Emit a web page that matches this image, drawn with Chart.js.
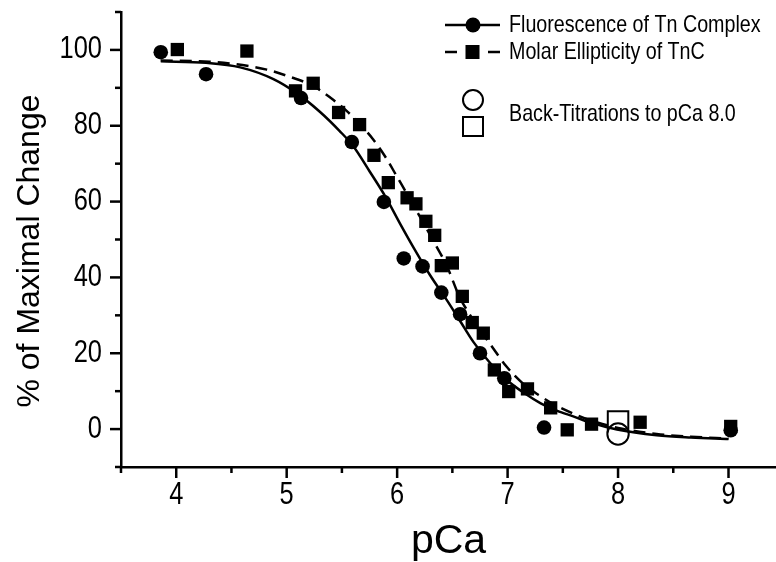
<!DOCTYPE html>
<html>
<head>
<meta charset="utf-8">
<script src="https://cdn.jsdelivr.net/npm/chart.js@4.4.1/dist/chart.umd.min.js"></script>
<style>
html,body{margin:0;padding:0;background:#fff;}
#wrap{width:776px;height:562px;position:relative;}
</style>
</head>
<body>
<div id="wrap"><canvas id="c" width="776" height="562"></canvas></div>
<script>
// ---- data ----
const fluorPCa = [3.86, 4.27, 5.13, 5.59, 5.88, 6.06, 6.23, 6.40, 6.57, 6.75, 6.97, 7.33, 9.02];
const fluorPct = [99.4, 93.6, 87.3, 75.7, 59.9, 45.0, 42.9, 36.0, 30.3, 20.0, 13.4, 0.4, -0.3];

const ellipPCa = [4.01, 4.64, 5.08, 5.24, 5.47, 5.66, 5.79, 5.92, 6.09, 6.17, 6.26, 6.34, 6.40, 6.50, 6.59, 6.68, 6.78, 6.88, 7.01, 7.18, 7.39, 7.54, 7.76, 8.20, 9.02];
const ellipPct = [100.1, 99.7, 89.2, 91.2, 83.5, 80.3, 72.2, 65.0, 61.0, 59.4, 54.8, 51.1, 43.1, 43.8, 35.0, 28.1, 25.3, 15.6, 9.9, 10.6, 5.6, -0.2, 1.3, 1.8, 0.7];

const fitFluorPCa = [3.86, 4.27, 4.58, 4.88, 5.09, 5.30, 5.48, 5.60, 5.75, 5.90, 6.03, 6.15, 6.30, 6.45, 6.57, 6.69, 6.84, 6.99, 7.15, 7.30, 7.45, 7.60, 7.75, 7.99, 8.35, 8.66, 9.00];
const fitFluorPct = [97.0, 96.6, 95.4, 92.3, 88.6, 83.7, 78.6, 74.7, 68.0, 61.0, 54.0, 47.8, 40.5, 34.0, 28.5, 23.0, 17.5, 13.0, 9.5, 6.8, 4.8, 3.3, 1.7, -0.1, -1.6, -2.2, -2.6];

const fitEllipPCa = [3.86, 4.30, 4.60, 4.82, 5.04, 5.24, 5.40, 5.54, 5.66, 5.78, 5.90, 6.00, 6.10, 6.21, 6.33, 6.45, 6.57, 6.63, 6.73, 6.84, 6.99, 7.14, 7.28, 7.42, 7.60, 7.75, 8.00, 8.35, 8.66, 9.00];
const fitEllipPct = [97.2, 96.9, 96.0, 94.8, 92.8, 90.5, 87.3, 84.0, 80.5, 76.5, 71.5, 66.5, 61.5, 55.8, 49.5, 43.0, 34.5, 31.5, 27.0, 22.5, 16.5, 12.0, 9.0, 6.5, 4.0, 2.3, 0.3, -1.3, -2.0, -2.5];

const backPCa = [8.0];
const backFluorPct = [-1.3];
const backEllipPct = [2.0];

const xTickValues = [4, 5, 6, 7, 8, 9];
const yTickValues = [0, 20, 40, 60, 80, 100];

const legendLabels = ["Fluorescence of Tn Complex", "Molar Ellipticity of TnC", "Back-Titrations to pCa 8.0"];
const xTitle = "pCa";
const yTitle = "% of Maximal Change";

// ---- helpers ----
const pts = (xs, ys) => xs.map((x, i) => ({x: x, y: ys[i]}));
const REG = "'Liberation Sans', Arial, sans-serif";
const NARROW_X = 0.82; // horizontal compression to imitate a narrow face

// draw tick labels horizontally condensed (text stays text)
function condensedFill(ctx, fn) {
  const f = ctx.fillText;
  ctx.fillText = function (t, x, y, m) {
    this.save();
    this.scale(NARROW_X, 1);
    if (m === undefined) f.call(this, t, x / NARROW_X, y);
    else f.call(this, t, x / NARROW_X, y, m / NARROW_X);
    this.restore();
  };
  try { fn(); } finally { delete ctx.fillText; }
}

const tickPlugin = {
  id: 'tickMarks',
  afterLayout(chart) {
    ['x', 'y'].forEach(id => {
      const s = chart.scales[id];
      if (s && !s._condensed) {
        const orig = s.drawLabels.bind(s);
        s.drawLabels = function (area) { condensedFill(this.ctx, () => orig(area)); };
        s._condensed = true;
      }
    });
  },
  afterDraw(chart) {
    const ctx = chart.ctx;
    const xs = chart.scales.x, ys = chart.scales.y;
    const ca = chart.chartArea;
    ctx.save();
    ctx.strokeStyle = '#000';
    ctx.lineWidth = 2.5;
    ctx.lineCap = 'butt';
    for (let v = 3.5; v <= xs.max + 1e-9; v += 0.5) {
      const px = xs.getPixelForValue(v);
      const major = Math.abs(v - Math.round(v)) < 1e-6;
      ctx.beginPath();
      ctx.moveTo(px, ca.bottom);
      ctx.lineTo(px, ca.bottom + (major ? 11 : 6));
      ctx.stroke();
    }
    for (let v = -10; v <= 110 + 1e-9; v += 10) {
      const py = ys.getPixelForValue(v);
      const major = Math.abs(v % 20) < 1e-6;
      ctx.beginPath();
      ctx.moveTo(ca.left, py);
      ctx.lineTo(ca.left - (major ? 11 : 6), py);
      ctx.stroke();
    }
    // y axis title
    ctx.fillStyle = '#000';
    ctx.font = "32px " + REG;
    ctx.textAlign = 'center';
    ctx.textBaseline = 'middle';
    ctx.translate(30, 251);
    ctx.rotate(-Math.PI / 2);
    ctx.fillText(yTitle, 0, 0);
    ctx.restore();

    // legend
    ctx.save();
    ctx.fillStyle = '#000';
    ctx.strokeStyle = '#000';
    ctx.lineWidth = 2.5;
    ctx.beginPath(); ctx.moveTo(445, 25); ctx.lineTo(500, 25); ctx.stroke();
    ctx.beginPath(); ctx.arc(473, 25, 7.5, 0, Math.PI * 2); ctx.fill();
    ctx.beginPath(); ctx.moveTo(445, 52); ctx.lineTo(457, 52); ctx.moveTo(488, 52); ctx.lineTo(500, 52); ctx.stroke();
    ctx.fillRect(465.5, 45, 14, 14);
    ctx.lineWidth = 2;
    ctx.beginPath(); ctx.arc(473, 100, 10, 0, Math.PI * 2); ctx.stroke();
    ctx.strokeRect(463, 117, 20, 19);
    ctx.font = "24px " + REG;
    ctx.textAlign = 'left';
    ctx.textBaseline = 'middle';
    const rows = [25, 52, 114];
    rows.forEach((y, i) => {
      ctx.save();
      ctx.translate(509, y);
      ctx.scale(NARROW_X, 1);
      ctx.fillText(legendLabels[i], 0, 0);
      ctx.restore();
    });
    ctx.restore();
  }
};

new Chart(document.getElementById('c'), {
  type: 'scatter',
  data: {
    datasets: [
      {
        label: 'Back-titration (ellipticity)',
        data: pts(backPCa, backEllipPct),
        pointStyle: 'rect', pointRadius: 14.5, pointBorderWidth: 2,
        pointBackgroundColor: '#fff', pointBorderColor: '#000',
        showLine: false, order: 7
      },
      {
        label: 'Back-titration (fluorescence)',
        data: pts(backPCa, backFluorPct),
        pointStyle: 'circle', pointRadius: 10.7, pointBorderWidth: 2,
        pointBackgroundColor: '#fff', pointBorderColor: '#000',
        showLine: false, order: 6
      },
      {
        label: 'Fit fluorescence',
        data: pts(fitFluorPCa, fitFluorPct),
        showLine: true, pointRadius: 0, borderColor: '#000', borderWidth: 2.5,
        cubicInterpolationMode: 'monotone', fill: false, order: 4
      },
      {
        label: 'Fit ellipticity',
        data: pts(fitEllipPCa, fitEllipPct),
        showLine: true, pointRadius: 0, borderColor: '#000', borderWidth: 2.5,
        borderDash: [12, 7], cubicInterpolationMode: 'monotone', fill: false, order: 3
      },
      {
        label: legendLabels[1],
        data: pts(ellipPCa, ellipPct),
        pointStyle: 'rect', pointRadius: 9.4, pointBorderWidth: 0,
        pointBackgroundColor: '#000', pointBorderColor: '#000',
        showLine: false, order: 2
      },
      {
        label: legendLabels[0],
        data: pts(fluorPCa, fluorPct),
        pointStyle: 'circle', pointRadius: 7.3, pointBorderWidth: 0,
        pointBackgroundColor: '#000', pointBorderColor: '#000',
        showLine: false, order: 1
      }
    ]
  },
  options: {
    responsive: false,
    animation: false,
    events: [],
    layout: { autoPadding: false, padding: { top: 12, right: 0, left: 0, bottom: 0 } },
    plugins: { legend: { display: false }, tooltip: { enabled: false } },
    scales: {
      x: {
        type: 'linear', min: 3.5, max: 9.43,
        afterFit(s) { s.height = 95; s.paddingLeft = 0; s.paddingRight = 0; },
        afterBuildTicks(s) { s.ticks = xTickValues.map(v => ({value: v})); },
        grid: { display: false, drawTicks: false },
        border: { display: true, color: '#000', width: 2.5 },
        ticks: { color: '#000', padding: 10, font: { family: REG, size: 31 }, autoSkip: false, maxRotation: 0 },
        title: { display: true, text: xTitle, color: '#000', font: { family: REG, size: 41, lineHeight: 1.0 }, padding: { top: 0, bottom: 0 } }
      },
      y: {
        type: 'linear', min: -10, max: 110,
        afterFit(s) { s.width = 121; s.paddingTop = 0; s.paddingBottom = 0; },
        afterBuildTicks(s) { s.ticks = yTickValues.map(v => ({value: v})); },
        grid: { display: false, drawTicks: false },
        border: { display: true, color: '#000', width: 2.5 },
        ticks: { color: '#000', padding: 19, font: { family: REG, size: 31 }, autoSkip: false }
      }
    }
  },
  plugins: [tickPlugin]
});
</script>
</body>
</html>
